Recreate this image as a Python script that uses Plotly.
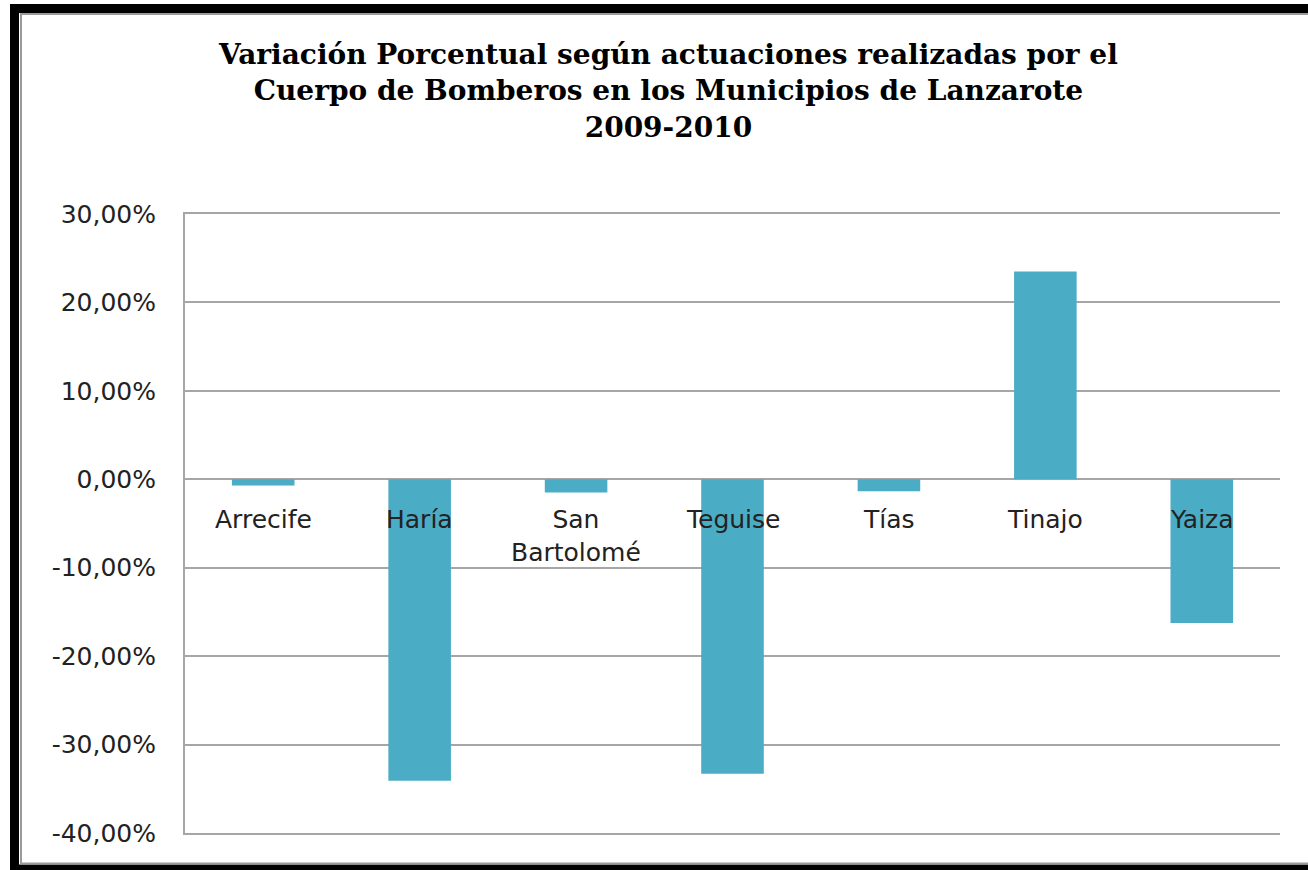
import plotly.graph_objects as go

# Variación porcentual 2009-2010 por municipio
municipios = ["Arrecife", "Haría", "San<br>Bartolomé", "Teguise", "Tías", "Tinajo", "Yaiza"]
variacion = [-0.007, -0.341, -0.015, -0.333, -0.0135, 0.235, -0.1625]
tick_vals = [0.30, 0.20, 0.10, 0.0, -0.10, -0.20, -0.30, -0.40]
tick_text = [f"{v * 100:.2f}%".replace(".", ",") for v in tick_vals]

W, H = 1308, 870
L, R, T, B = 185, 28, 214, 37
pw, ph = W - L - R, H - T - B


def px_x(x):
    return (x - L) / pw


def px_y(y):
    return (H - B - y) / ph


fig = go.Figure(go.Bar(
    x=municipios, y=variacion, width=0.4,
    marker=dict(color="#4BACC6", line=dict(width=0)),
))

# category labels sit just under the zero line
for m in municipios:
    fig.add_annotation(x=m, y=0, xref="x", yref="y", text=m, showarrow=False,
                       yanchor="top", yshift=-24,
                       font=dict(family="DejaVu Sans", size=25, color="#222"))

fig.add_annotation(
    text="<b>Variación Porcentual según actuaciones realizadas por el<br>"
         "Cuerpo de Bomberos en los Municipios de Lanzarote<br>2009-2010</b>",
    xref="paper", yref="paper", x=px_x(668), y=px_y(36), xanchor="center", yanchor="top",
    showarrow=False, font=dict(family="DejaVu Serif", size=28, color="black"),
)

# outer frame
fig.add_shape(type="rect", xref="paper", yref="paper",
              x0=px_x(14.5), x1=px_x(1330), y0=px_y(8.5), y1=px_y(869),
              line=dict(color="black", width=9), layer="below")
fig.add_shape(type="rect", xref="paper", yref="paper",
              x0=px_x(21), x1=px_x(1340), y0=px_y(14), y1=px_y(863.5),
              line=dict(color="#9a9a9a", width=2), layer="below")

fig.update_layout(
    width=W, height=H,
    margin=dict(l=L, r=R, t=T, b=B),
    paper_bgcolor="white", plot_bgcolor="white",
    showlegend=False,
    font=dict(family="DejaVu Sans", size=25, color="#222"),
)
# x axis line + mirror give the top (30%) and bottom (-40%) rules
fig.update_xaxes(showticklabels=False, showgrid=False, zeroline=False,
                 showline=True, mirror=True, linecolor="#a6a6a6", linewidth=2,
                 ticks="", fixedrange=True)
fig.update_yaxes(range=[-0.40, 0.30], tickvals=tick_vals, ticktext=tick_text,
                 showgrid=True, gridcolor="#a6a6a6", gridwidth=2,
                 zeroline=True, zerolinecolor="#a6a6a6", zerolinewidth=2,
                 showline=True, linecolor="#a6a6a6", linewidth=2,
                 ticks="", ticklabelstandoff=22)
fig.write_html("out.html", config={"displayModeBar": False},
               post_script="document.body.style.margin='0';")
